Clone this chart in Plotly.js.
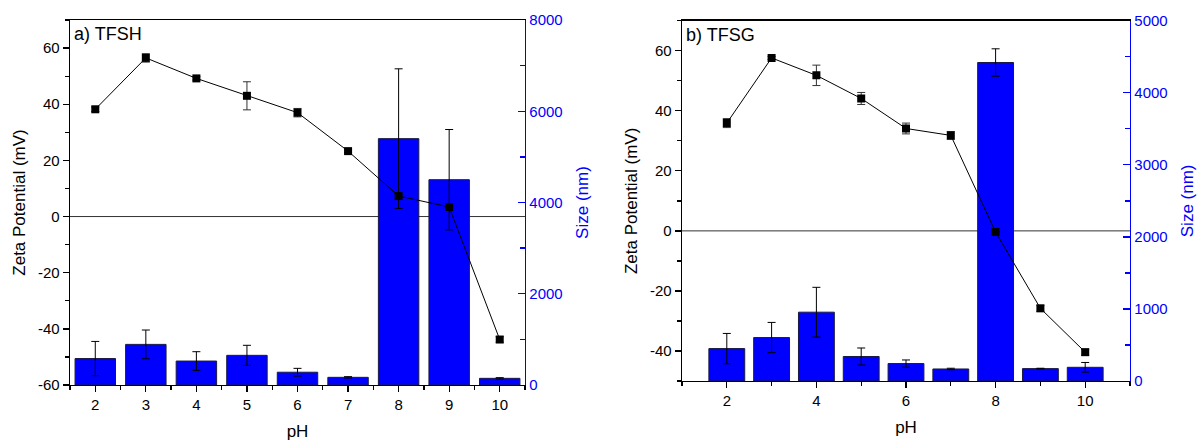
<!DOCTYPE html>
<html>
<head>
<meta charset="utf-8">
<script src="https://cdn.plot.ly/plotly-3.0.1.min.js"></script>
<style>html,body{margin:0;padding:0;background:#fff;}#chart{width:1197px;height:442px;}</style>
</head>
<body>
<div id="chart"></div>
<script>
// ---- Data ----
const phA = [2, 3, 4, 5, 6, 7, 8, 9, 10];
const sizeA = [580, 890, 525, 650, 280, 168, 5400, 4500, 146];
const sizeErrA = [375, 315, 205, 220, 85, 15, 1530, 1100, 15];
const zetaA = [38.2, 56.5, 49.2, 43.0, 37.0, 23.3, 7.3, 3.4, -43.8];
const zetaErrA = [0.8, 1.5, 0.6, 5.0, 1.5, 0.5, 1.0, 1.0, 1.0];

const phB = [2, 3, 4, 5, 6, 7, 8, 9, 10];
const sizeB = [450, 603, 955, 340, 242, 167, 4420, 172, 190];
const sizeErrB = [210, 210, 345, 118, 50, 10, 190, 5, 67];
const zetaB = [35.9, 57.6, 51.8, 44.1, 34.1, 31.8, -0.4, -25.8, -40.4];
const zetaErrB = [1.5, 0.5, 3.4, 2.0, 1.8, 1.3, 0.5, 1.0, 1.0];

// tick labels (hyphen-minus as in the original)
const zetaTicksA = [-60, -40, -20, 0, 20, 40, 60];
const zetaTickTextA = ['-60', '-40', '-20', '0', '20', '40', '60'];
const zetaTicksB = [-40, -20, 0, 20, 40, 60];
const zetaTickTextB = ['-40', '-20', '0', '20', '40', '60'];

const labelA = 'a) TFSH';
const labelB = 'b) TFSG';
const xTitle = 'pH';
const zetaTitle = 'Zeta Potential (mV)';
const sizeTitle = 'Size (nm)';

// ---- Styles ----
const BLUE = '#0000FF';
const FONT = 'Liberation Sans, Arial, sans-serif';
const W = 1197, H = 442;

function barTrace(x, y, err, xa, ya) {
  return {
    type: 'bar', x: x, y: y, xaxis: xa, yaxis: ya, width: 0.8,
    marker: {color: BLUE, line: {color: '#1a1a40', width: 1}},
    error_y: {type: 'data', array: err, visible: true, color: '#000', thickness: 1, width: 4},
    showlegend: false, hoverinfo: 'skip'
  };
}
function lineTrace(x, y, err, xa, ya) {
  return {
    type: 'scatter', mode: 'lines+markers', x: x, y: y, xaxis: xa, yaxis: ya,
    line: {color: '#000', width: 1},
    marker: {symbol: 'square', size: 8, color: '#000'},
    error_y: {type: 'data', array: err, visible: true, color: '#333', thickness: 1, width: 4},
    showlegend: false, hoverinfo: 'skip'
  };
}

const data = [
  barTrace(phA, sizeA, sizeErrA, 'x', 'y'),
  lineTrace(phA, zetaA, zetaErrA, 'x', 'y2'),
  barTrace(phB, sizeB, sizeErrB, 'x2', 'y3'),
  lineTrace(phB, zetaB, zetaErrB, 'x2', 'y4')
];

const tickFont = {family: FONT, size: 15, color: '#000'};
const blueTickFont = {family: FONT, size: 15, color: BLUE};
const titleFont = {family: FONT, size: 17, color: '#000'};
const blueTitleFont = {family: FONT, size: 17, color: BLUE};

function xAxis(domain, range, dtick, minorTick0, minorDtick, anchor) {
  return {
    domain: domain, range: range, anchor: anchor, dtick: dtick, tick0: 0,
    showline: true, linecolor: '#000', linewidth: 1.3, mirror: true,
    ticks: 'outside', ticklen: 6, tickwidth: 1.3, tickcolor: '#000',
    minor: {ticks: 'outside', ticklen: 4, tickwidth: 1.3, tickcolor: '#000', tick0: minorTick0, dtick: minorDtick, showgrid: false},
    showgrid: false, zeroline: false, tickfont: tickFont,
    title: {text: xTitle, font: titleFont, standoff: 12}
  };
}
function sizeAxis(domain, range, dtick, anchor) {
  return {
    domain: domain, range: range, anchor: anchor, side: 'right', dtick: dtick,
    showline: true, linecolor: BLUE, linewidth: 1.3,
    ticks: 'inside', ticklen: 7, tickwidth: 1.3, tickcolor: BLUE,
    minor: {ticks: 'inside', ticklen: 5, tickwidth: 1.3, tickcolor: BLUE, dtick: dtick / 2, showgrid: false},
    showgrid: false, zeroline: false, tickfont: blueTickFont,
    title: {text: sizeTitle, font: blueTitleFont, standoff: 14}
  };
}
function zetaAxis(overlay, range, anchor, tv, tt) {
  return {
    overlaying: overlay, anchor: anchor, side: 'left', range: range,
    tickmode: 'array', tickvals: tv, ticktext: tt,
    showline: true, linecolor: '#000', linewidth: 1.3,
    ticks: 'outside', ticklen: 6, tickwidth: 1.3, tickcolor: '#000',
    minor: {ticks: 'outside', ticklen: 4, tickwidth: 1.3, tickcolor: '#000', tick0: 0, dtick: 10, showgrid: false},
    showgrid: false, zeroline: false, tickfont: tickFont,
    title: {text: zetaTitle, font: titleFont, standoff: 8}
  };
}

const layout = {
  width: W, height: H,
  margin: {l: 0, r: 0, t: 0, b: 0},
  paper_bgcolor: '#fff', plot_bgcolor: 'rgba(0,0,0,0)',
  font: {family: FONT},
  bargap: 0.2,
  xaxis: xAxis([70 / W, 525 / W], [1.5, 10.5], 1, 1.5, 1, 'y'),
  yaxis: sizeAxis([1 - 385 / H, 1 - 20 / H], [0, 8000], 2000, 'x'),
  yaxis2: zetaAxis('y', [-60, 70], 'x', zetaTicksA, zetaTickTextA),
  xaxis2: xAxis([682 / W, 1130 / W], [1, 11], 2, 1, 2, 'y3'),
  yaxis3: sizeAxis([1 - 381 / H, 1 - 20.7 / H], [0, 5000], 1000, 'x2'),
  yaxis4: zetaAxis('y3', [-50, 70], 'x2', zetaTicksB, zetaTickTextB),
  shapes: [
    {type: 'line', layer: 'below', xref: 'x domain', yref: 'y2', x0: 0, x1: 1, y0: 0, y1: 0, line: {color: '#333', width: 1}},
    {type: 'line', layer: 'below', xref: 'x2 domain', yref: 'y4', x0: 0, x1: 1, y0: 0, y1: 0, line: {color: '#333', width: 1}}
  ],
  annotations: [
    {text: labelA, xref: 'x domain', yref: 'y domain', x: 0.005, y: 0.995, xanchor: 'left', yanchor: 'top', showarrow: false, font: {family: FONT, size: 18, color: '#000'}},
    {text: labelB, xref: 'x2 domain', yref: 'y3 domain', x: 0.005, y: 0.995, xanchor: 'left', yanchor: 'top', showarrow: false, font: {family: FONT, size: 18, color: '#000'}}
  ]
};

Plotly.newPlot('chart', data, layout, {displayModeBar: false, staticPlot: true});
</script>
</body>
</html>
